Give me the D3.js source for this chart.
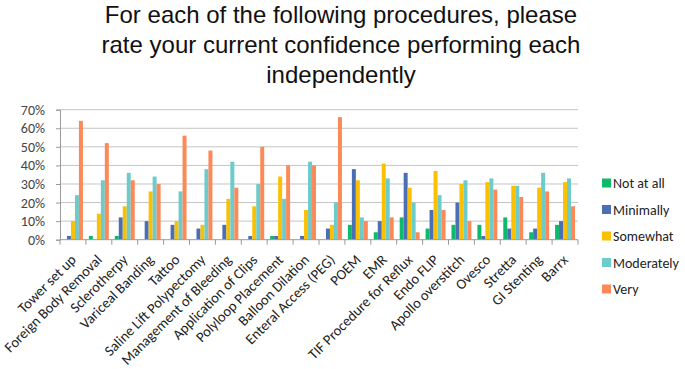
<!DOCTYPE html>
<html>
<head>
<meta charset="utf-8">
<script src="https://cdn.jsdelivr.net/npm/d3@7"></script>
<style>
  body { margin: 0; background: #fff; }
  text { font-family: "Liberation Sans", Arial, sans-serif; }
</style>
</head>
<body>
<script>
const procedures = [
  "Tower set up", "Foreign Body Removal", "Sclerotherpy", "Variceal Banding",
  "Tattoo", "Saline Lift Polypectomy", "Management of Bleeding",
  "Application of Clips", "Polyloop Placement", "Balloon Dilation",
  "Enteral Access (PEG)", "POEM", "EMR", "TIF Procedure for Reflux",
  "Endo FLIP", "Apollo overstitch", "Ovesco", "Stretta", "GI Stenting", "Barrx"
];
const levels = ["Not at all", "Minimally", "Somewhat", "Moderately", "Very"];
const notAtAll   = [0, 2, 2, 0, 0, 0, 0, 0, 2, 0, 0, 8, 4, 12, 6, 8, 8, 12, 4, 8];
const minimally  = [2, 0, 12, 10, 8, 6, 8, 2, 2, 2, 6, 38, 10, 36, 16, 20, 2, 6, 6, 10];
const somewhat   = [10, 14, 18, 26, 10, 8, 22, 18, 34, 16, 8, 32, 41, 28, 37, 30, 31, 29, 28, 31];
const moderately = [24, 32, 36, 34, 26, 38, 42, 30, 22, 42, 20, 12, 33, 20, 24, 32, 33, 29, 36, 33];
const very       = [64, 52, 32, 30, 56, 48, 28, 50, 40, 40, 66, 10, 12, 4, 16, 10, 27, 23, 26, 18];
const yTicks = [0, 10, 20, 30, 40, 50, 60, 70];
const titleLines = [
  "For each of the following procedures, please",
  "rate your current confidence performing each",
  "independently"
];
const colors = ["#10b96a", "#4a6fb5", "#fbc002", "#6ecbcc", "#fb8a58"];

const series = [notAtAll, minimally, somewhat, moderately, very];
const labelFont = "Calibri, Carlito, 'Open Sans', sans-serif";

const width = 685;
const height = 369;
const margin = { left: 60, right: 107, top: 109.7, bottom: 129.3 };

const svg = d3.select("body").append("svg")
  .attr("width", width)
  .attr("height", height);

// title
svg.append("g")
  .selectAll("text")
  .data(titleLines)
  .enter()
  .append("text")
  .attr("x", 341)
  .attr("y", (d, i) => 23 + i * 30)
  .attr("text-anchor", "middle")
  .attr("font-size", 24)
  .attr("fill", "#111")
  .text((d) => d);

const x = d3.scaleBand()
  .domain(procedures)
  .range([margin.left, width - margin.right])
  .paddingInner(0.23)
  .paddingOuter(0.115);

const xBand = d3.scaleBand()
  .domain(procedures)
  .range([margin.left, width - margin.right]);

const xSub = d3.scaleBand()
  .domain(levels)
  .range([0, x.bandwidth()]);

const y = d3.scaleLinear()
  .domain([0, 70])
  .range([height - margin.bottom, margin.top]);

// gridlines
svg.append("g")
  .selectAll("line")
  .data(yTicks.slice(1))
  .enter()
  .append("line")
  .attr("x1", margin.left)
  .attr("x2", width - margin.right)
  .attr("y1", (d) => y(d))
  .attr("y2", (d) => y(d))
  .attr("stroke", "#c4c4c4")
  .attr("stroke-width", 1);

// y axis
const yAxis = svg.append("g")
  .attr("transform", `translate(${margin.left},0)`)
  .call(d3.axisLeft(y).tickValues(yTicks).tickFormat((d) => d + "%").tickSize(4).tickPadding(11));
yAxis.select(".domain").attr("stroke", "#9a9a9a");
yAxis.selectAll(".tick line").attr("stroke", "#9a9a9a");
yAxis.selectAll("text")
  .attr("font-size", 14)
  .attr("fill", "#444")
  .style("font-family", labelFont);

// bars
series.forEach((values, s) => {
  svg.append("g")
    .selectAll("rect")
    .data(values)
    .enter()
    .append("rect")
    .attr("x", (d, i) => x(procedures[i]) + xSub(levels[s]))
    .attr("width", xSub.bandwidth())
    .attr("y", (d) => y(d))
    .attr("height", (d) => y(0) - y(d))
    .attr("fill", colors[s]);
});

// x axis
const xAxis = svg.append("g")
  .attr("transform", `translate(0,${y(0)})`);
xAxis.append("line")
  .attr("x1", margin.left)
  .attr("x2", width - margin.right)
  .attr("stroke", "#9a9a9a");
xAxis.selectAll(".tk")
  .data(procedures.concat(["end"]))
  .enter()
  .append("line")
  .attr("x1", (d, i) => margin.left + i * xBand.step())
  .attr("x2", (d, i) => margin.left + i * xBand.step())
  .attr("y1", 0)
  .attr("y2", 5)
  .attr("stroke", "#9a9a9a");
xAxis.selectAll("text")
  .data(procedures)
  .enter()
  .append("text")
  .attr("transform", (d) => `translate(${xBand(d) + xBand.bandwidth() / 2 + 4},${21}) rotate(-45)`)
  .attr("text-anchor", "end")
  .attr("font-size", 14.5)
  .attr("fill", "#222")
  .style("font-family", labelFont)
  .text((d) => d);

// legend
const legend = svg.append("g")
  .selectAll("g")
  .data(levels)
  .enter()
  .append("g")
  .attr("transform", (d, i) => `translate(602,${183 + i * 26.5})`);
legend.append("rect")
  .attr("x", 0)
  .attr("y", -4.5)
  .attr("width", 9)
  .attr("height", 9)
  .attr("fill", (d, i) => colors[i]);
legend.append("text")
  .attr("x", 11)
  .attr("y", 5)
  .attr("font-size", 14)
  .attr("fill", "#222")
  .style("font-family", labelFont)
  .text((d) => d);
</script>
</body>
</html>
